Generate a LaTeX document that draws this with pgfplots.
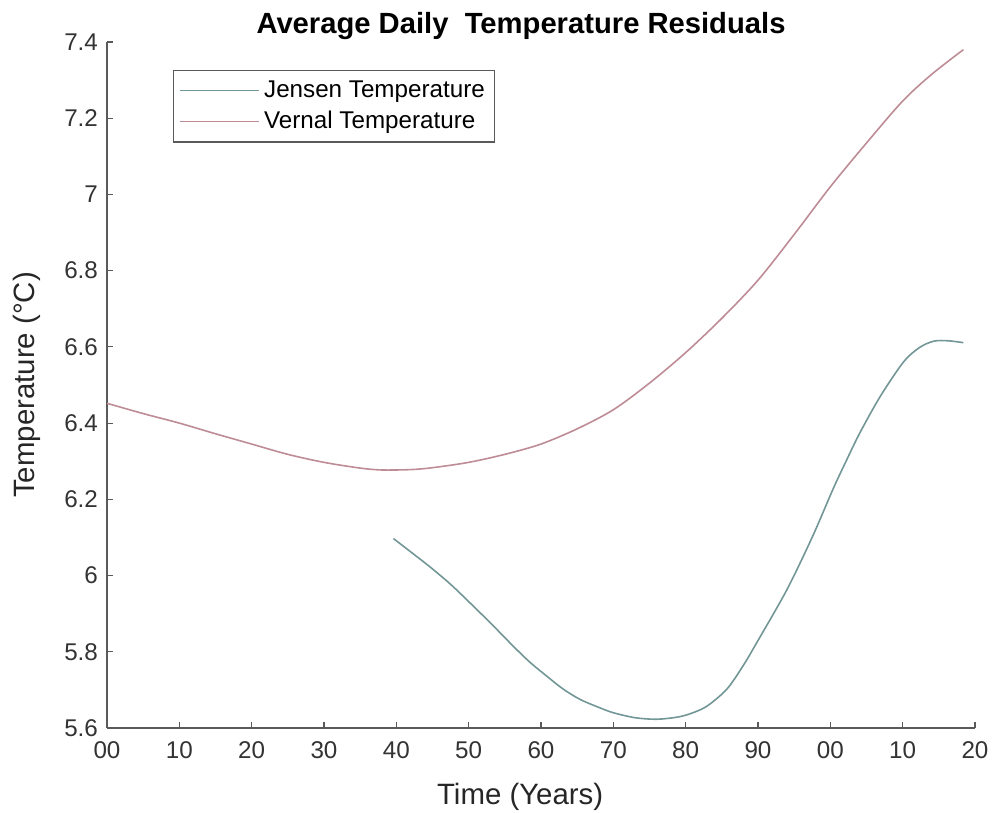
\documentclass[border=0pt]{standalone}
\usepackage{pgfplots}
\pgfplotsset{compat=1.18}
\usepackage{fontspec}
\setmainfont{Liberation Sans}
\definecolor{jensen}{RGB}{115,150,150}
\definecolor{vernal}{RGB}{190,140,150}
\definecolor{axgray}{RGB}{90,90,90}
\begin{document}
\begin{tikzpicture}[x=1pt,y=1pt]
\begin{axis}[
  name=ax,
  scale only axis,
  width=434pt, height=343pt,
  xmin=1900, xmax=2020, ymin=5.6, ymax=7.4,
  axis x line*=bottom, axis y line*=left,
  axis line style={axgray, line width=0.8pt},
  tick align=inside,
  major tick length=3pt,
  tick style={axgray, line width=0.6pt},
  xtick={1900,1910,...,2020},
  xticklabels={00,10,20,30,40,50,60,70,80,90,00,10,20},
  ytick={5.6,5.8,...,7.41},
  yticklabel style={/pgf/number format/fixed, /pgf/number format/precision=1, xshift=-1pt},
  xticklabel style={yshift=-3.5pt},
  /pgf/number format/assume math mode=true,
  tick label style={font=\fontsize{12.1}{14}\selectfont, text=black!80},
  xlabel={Time (Years)},
  ylabel={Temperature (°C)},
  label style={font=\fontsize{14.7}{17}\selectfont, text=black!85},
  xlabel style={at={(axis description cs:0.476,-0.1)}, anchor=center},
  ylabel style={at={(axis description cs:-0.092,0.5)}, anchor=center},
  title={Average Daily\ \ Temperature Residuals},
  title style={font=\bfseries\fontsize{14.6}{17}\selectfont, at={(axis description cs:0.477,1.013)}, anchor=base, yshift=-6pt},
  legend style={at={(axis description cs:0.076,0.959)}, anchor=north west,
    draw=axgray, line width=0.6pt, font=\fontsize{12.1}{14}\selectfont,
    inner xsep=3pt, inner ysep=3pt, row sep=1.5pt},
  legend cell align=left,
  legend image code/.code={\draw[#1] (0pt,0pt) -- (39.5pt,0pt);},
]
\addplot[jensen, line width=0.8pt, smooth] coordinates {
(1939.6,6.097) (1942,6.062) (1944.7,6.022) (1947.5,5.977) (1950.2,5.928)
(1953.2,5.872) (1956.2,5.814) (1958.5,5.772) (1960.8,5.736) (1963,5.703)
(1965.4,5.675) (1968,5.654) (1970,5.640) (1973,5.627) (1976,5.623)
(1979,5.629) (1981,5.640) (1983,5.658) (1985.7,5.702) (1988,5.765)
(1989.8,5.823) (1994,5.963) (1997.6,6.105) (2000.4,6.228) (2002.3,6.305)
(2004.1,6.375) (2006.9,6.470) (2010.1,6.560) (2012.3,6.598) (2014.3,6.615)
(2016.3,6.616) (2018.4,6.611)
};
\addlegendentry{Jensen Temperature}
\addplot[vernal, line width=0.8pt, smooth] coordinates {
(1900,6.452) (1905,6.425) (1910,6.400) (1915,6.372) (1920,6.345)
(1925,6.318) (1930,6.297) (1935,6.282) (1938,6.277) (1942,6.278)
(1945,6.283) (1950,6.297) (1955,6.318) (1960,6.345) (1965,6.385)
(1970,6.435) (1975,6.505) (1980,6.585) (1985,6.675) (1990,6.775)
(1995,6.895) (2000,7.020) (2005,7.135) (2010,7.245) (2014,7.315)
(2018.4,7.380)
};
\addlegendentry{Vernal Temperature}
\end{axis}
\pgfresetboundingbox
\path (ax.south west) ++(-53.5pt,-42.5pt) rectangle ++(496.5pt,406.5pt);
\end{tikzpicture}
\end{document}
